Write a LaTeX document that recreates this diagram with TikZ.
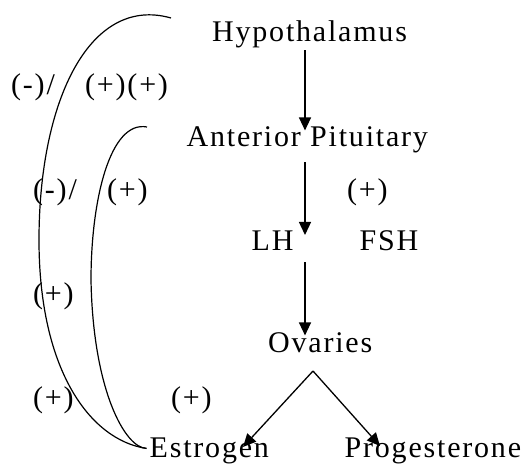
\documentclass[tikz,border=0pt]{standalone}
\usepackage{fontspec}
\setmainfont{Liberation Serif}[LetterSpace=6]
\usetikzlibrary{arrows.meta}
\begin{document}
\begin{tikzpicture}[x=1pt,y=-1pt,
  txt/.style={inner sep=0pt, anchor=base west, font=\fontsize{30}{35}\selectfont},
  arr/.style={line width=1.3pt, -{Triangle[width=12pt,length=13pt]}},
  fb/.style={line width=1.2pt}]
\useasboundingbox (0,0) rectangle (523,465);
% main chain
\node[txt] (hyp) at (212,42) {Hypothalamus};
\node[txt] (ant) at (186.5,147) {Anterior Pituitary};
\node[txt] (lh)  at (251.5,251) {LH};
\node[txt] (fsh) at (359.5,251) {FSH};
\node[txt] (ov)  at (268,353) {Ovaries};
\node[txt] (est) at (149.5,458) {Estrogen};
\node[txt] (pro) at (344.5,458) {Progesterone};
% labels
\node[txt] (l1) at (11,95) {(-)/};
\node[txt] (l2) at (85,95) {(+)(+)};
\node[txt] (l3) at (33,200) {(-)/};
\node[txt] (l4) at (107,200) {(+)};
\node[txt] (l5) at (347,200) {(+)};
\node[txt] (l6) at (33,304) {(+)};
\node[txt] (l7) at (33,408) {(+)};
\node[txt] (l8) at (171,408) {(+)};
% helper coordinates
\coordinate (ax) at (305,0);
\coordinate (lhf) at (305,235);
\coordinate (split) at (313,371);
\coordinate (tE) at (243,447);
\coordinate (tP) at (380,446);
\coordinate (c1) at (171,18);
\coordinate (c2) at (147,127);
% arrows
\draw[arr, shorten <=1.5pt, shorten >=-3.5pt] (hyp.south -| ax) -- (ant.north -| ax);
\draw[arr, shorten <=8.5pt] (ant.south -| ax) -- (lhf);
\draw[arr, shorten <=11pt, shorten >=-2.5pt] (lh.south -| ax) -- (ov.north -| ax);
\draw[arr] (split) -- (tE);
\draw[arr] (split) -- (tP);
% feedback curves
\draw[fb] (c1) .. controls (90,-5) and (39,100) .. (39,240)
  .. controls (39,370) and (90,440) .. ([xshift=-3pt,yshift=3pt]est.west);
\draw[fb] (c2) .. controls (110,120) and (91,200) .. (91,280)
  .. controls (93,390) and (125,448) .. ([xshift=-3pt,yshift=3pt]est.west);
\end{tikzpicture}
\end{document}
